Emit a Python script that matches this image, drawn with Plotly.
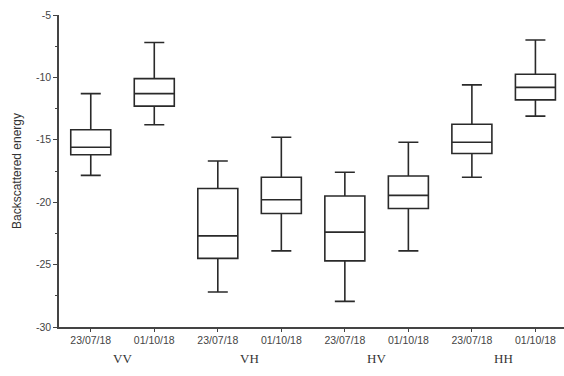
import plotly.graph_objects as go

dates = ["23/07/18", "01/10/18", "23/07/18", "01/10/18", "23/07/18", "01/10/18", "23/07/18", "01/10/18"]
groups = ["VV", "VH", "HV", "HH"]
upper = [-11.3, -7.2, -16.7, -14.8, -17.6, -15.2, -10.6, -7.0]
q3 = [-14.2, -10.1, -18.9, -18.0, -19.5, -17.9, -13.75, -9.75]
median = [-15.6, -11.3, -22.7, -19.8, -22.4, -19.45, -15.2, -10.8]
q1 = [-16.2, -12.3, -24.5, -20.9, -24.7, -20.5, -16.1, -11.8]
lower = [-17.85, -13.8, -27.2, -23.9, -27.95, -23.9, -18.0, -13.1]
ytick_vals = [-30, -25, -20, -15, -10, -5]
ytick_text = ["-30", "-25", "-20", "-15", "-10", "-5"]

pos = list(range(len(dates)))

fig = go.Figure()
fig.add_trace(go.Box(
    x=pos, q1=q1, median=median, q3=q3, lowerfence=lower, upperfence=upper,
    width=0.63, whiskerwidth=0.5,
    line=dict(color="#2a2a2a", width=1.6), fillcolor="white",
    showlegend=False, boxpoints=False,
))

for i, g in enumerate(groups):
    fig.add_annotation(x=2 * i + 0.5, y=-0.07, xref="x", yref="paper", yanchor="top",
                       text=g, showarrow=False,
                       font=dict(family="Liberation Serif", size=13, color="#333"))

fig.update_layout(
    width=564, height=376,
    margin=dict(l=59, r=0, t=15, b=49),
    plot_bgcolor="white", paper_bgcolor="white",
    xaxis=dict(range=[-0.5, 7.45], tickvals=pos, ticktext=dates,
               showgrid=False, zeroline=False, showline=True, linecolor="#444", linewidth=1.5,
               ticks="outside", ticklen=3, tickcolor="#444",
               tickfont=dict(family="Liberation Sans", size=10.5, color="#444")),
    yaxis=dict(range=[-30, -5], tickvals=ytick_vals, ticktext=ytick_text,
               showgrid=False, zeroline=False, showline=True, linecolor="#444", linewidth=1.5,
               ticks="outside", ticklen=4, tickcolor="#444",
               minor=dict(dtick=2.5, tick0=-30, ticks="outside", ticklen=2, tickcolor="#444"),
               tickfont=dict(family="Liberation Sans", size=10.5, color="#444"),
               title=dict(text="Backscattered energy", standoff=12,
                          font=dict(family="Liberation Sans", size=12, color="#333"))),
)

fig.write_html("out.html")
